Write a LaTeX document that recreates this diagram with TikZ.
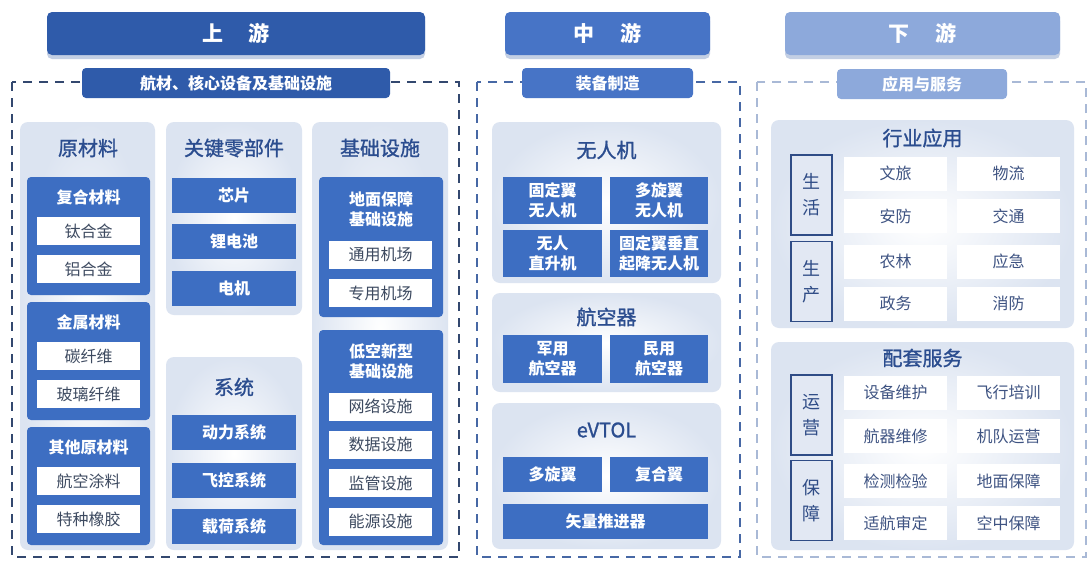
\documentclass[tikz,border=0pt]{standalone}
\usepackage{fontspec}
\setmainfont{Noto Sans CJK SC}
\newfontfamily\medfont[FakeBold=1.2]{Noto Sans CJK SC}
\usetikzlibrary{shadows}
\definecolor{upblue}{HTML}{2F5BAA}
\definecolor{midblue}{HTML}{4774C6}
\definecolor{downblue}{HTML}{8DA9DB}
\definecolor{boxblue}{HTML}{3D6EC2}
\definecolor{titleblue}{HTML}{2B4D8F}
\definecolor{itemgray}{HTML}{3D4A60}
\definecolor{panelbg}{HTML}{DCE4F1}
\definecolor{sidebg}{HTML}{E2E8F3}
\definecolor{sideblue}{HTML}{2F4C86}
\definecolor{celltext}{HTML}{3E5382}
\definecolor{shadowblue}{HTML}{B5C3DE}
\definecolor{upframe}{HTML}{33486F}
\definecolor{midframe}{HTML}{4768A5}
\definecolor{downframe}{HTML}{A9B9D6}
\begin{document}
\begin{tikzpicture}[x=1pt, y=-1pt,
    header/.style={rounded corners=5pt, text=white, minimum height=43pt, font=\fontsize{21}{21}\selectfont\bfseries,
        drop shadow={shadow xshift=0pt, shadow yshift=-4pt, fill=shadowblue, opacity=0.8}},
    subhead/.style={rounded corners=4pt, text=white, minimum height=30pt, font=\fontsize{16}{16}\selectfont\bfseries},
    frame/.style={line width=1.8pt, dash pattern=on 9pt off 7pt},
    panel/.style={rounded corners=8pt, inner color=white, outer color=panelbg},
    paneltitle/.style={text=titleblue, font=\fontsize{20}{20}\selectfont\medfont},
    group/.style={fill=boxblue, rounded corners=4pt},
    grouplabel/.style={text=white, align=center, font=\fontsize{16}{20}\selectfont\bfseries},
    item/.style={fill=white, text=itemgray, minimum width=103pt, minimum height=28pt, inner sep=0pt, font=\fontsize{16}{16}\selectfont},
    part/.style={fill=boxblue, text=white, align=center, inner sep=0pt, font=\fontsize{16}{20}\selectfont\bfseries},
    side/.style={fill=sidebg, draw=sideblue, line width=1.5pt, text=sideblue, align=center, minimum width=41pt,
        minimum height=80pt, inner sep=0pt, font=\fontsize{18}{26}\selectfont},
    cell/.style={fill=white, text=celltext, minimum width=103pt, minimum height=34pt, inner sep=0pt, font=\fontsize{16}{16}\selectfont}]
    \useasboundingbox[fill=white] (0,0) rectangle (1092,560);

    % headers
    \node[header, fill=upblue, minimum width=378pt] (up) at (236,33.5) {上\hspace{1.2em}游};
    \node[header, fill=midblue, minimum width=205pt] (mid) at (607.5,33.5) {中\hspace{1.2em}游};
    \node[header, fill=downblue, minimum width=275pt] (down) at (922.5,33.5) {下\hspace{1.2em}游};

    % dashed frames
    \draw[frame, upframe] (12,82) rectangle (459,557);
    \draw[frame, midframe] (477,82) rectangle (740,557);
    \draw[frame, downframe] (757,82) rectangle (1086,557);
    \node[subhead, fill=upblue, minimum width=308pt] (upsub) at (236,83) {航材、核心设备及基础设施};
    \node[subhead, fill=midblue, minimum width=171pt] (midsub) at (607.5,83) {装备制造};
    \node[subhead, fill=downblue, minimum width=170pt] (downsub) at (922,84) {应用与服务};

    % upstream panels
    \node[panel, minimum width=135pt, minimum height=428pt] (raw) at (87.5,336) {};
    \node[panel, minimum width=136pt, minimum height=193pt] (key) at (234,218.5) {};
    \node[panel, minimum width=136pt, minimum height=193pt] (sys) at (234,453.5) {};
    \node[panel, minimum width=136pt, minimum height=428pt] (infra) at (380,336) {};
    \node[paneltitle] (raw-title) at (88,148) {原材料};
    \node[paneltitle] (key-title) at (234,148) {关键零部件};
    \node[paneltitle] (infra-title) at (380,148) {基础设施};
    \node[paneltitle] (sys-title) at (234,387) {系统};

    \foreach \gy/\gname/\ga/\gb [count=\i] in {177/复合材料/钛合金/铝合金, 302/金属材料/碳纤维/玻璃纤维, 427/其他原材料/航空涂料/特种橡胶} {
        \node[group, minimum width=123pt, minimum height=118pt] (raw\i) at (88.5,\gy+59) {};
        \node[grouplabel] (raw\i-label) at (88.5,\gy+20) {\gname};
        \node[item] (raw\i-a) at (88.5,\gy+54) {\ga};
        \node[item] (raw\i-b) at (88.5,\gy+92) {\gb};
    }
    \foreach \py/\pname [count=\i] in {195.5/芯片, 241.5/锂电池, 288/电机}
        \node[part, minimum width=124pt, minimum height=35pt] (key\i) at (234,\py) {\pname};
    \foreach \py/\pname [count=\i] in {432/动力系统, 480.5/飞控系统, 526/载荷系统}
        \node[part, minimum width=124pt, minimum height=35pt] (sys\i) at (234,\py) {\pname};

    \node[group, minimum width=124pt, minimum height=140pt] (infra1) at (381,247) {};
    \node[grouplabel] (infra1-label) at (381,209) {地面保障\\基础设施};
    \foreach \iy/\iname [count=\i] in {254.5/通用机场, 293/专用机场}
        \node[item] (infra1-\i) at (380.5,\iy) {\iname};
    \node[group, minimum width=124pt, minimum height=215pt] (infra2) at (381,437.5) {};
    \node[grouplabel] (infra2-label) at (381,361) {低空新型\\基础设施};
    \foreach \iy/\iname [count=\i] in {406.5/网络设施, 444.5/数据设施, 483/监管设施, 521.5/能源设施}
        \node[item] (infra2-\i) at (380.5,\iy) {\iname};

    % midstream
    \node[panel, minimum width=229pt, minimum height=161pt] (uav) at (606.5,202.5) {};
    \node[panel, minimum width=229pt, minimum height=99pt] (air) at (606.5,342.5) {};
    \node[panel, minimum width=229pt, minimum height=146pt] (evtol) at (606.5,476) {};
    \node[paneltitle] (uav-title) at (606.5,150) {无人机};
    \node[paneltitle] (air-title) at (606.5,317) {航空器};
    \node[paneltitle] (evtol-title) at (606.5,430) {eVTOL};
    \node[part, minimum width=99pt, minimum height=47pt] (uav1) at (552.5,200.5) {固定翼\\无人机};
    \node[part, minimum width=98pt, minimum height=47pt] (uav2) at (659,200.5) {多旋翼\\无人机};
    \node[part, minimum width=99pt, minimum height=47pt] (uav3) at (552.5,253) {无人\\直升机};
    \node[part, minimum width=98pt, minimum height=47pt] (uav4) at (659,253) {固定翼垂直\\起降无人机};
    \node[part, minimum width=99pt, minimum height=48pt] (air1) at (552.5,359) {军用\\航空器};
    \node[part, minimum width=98pt, minimum height=48pt] (air2) at (659,359) {民用\\航空器};
    \node[part, minimum width=99pt, minimum height=35pt] (evtol1) at (552.5,474.5) {多旋翼};
    \node[part, minimum width=98pt, minimum height=35pt] (evtol2) at (659,474.5) {复合翼};
    \node[part, minimum width=205pt, minimum height=35pt] (evtol3) at (605.5,521.5) {矢量推进器};

    % downstream
    \node[panel, minimum width=303pt, minimum height=208pt] (ind) at (922.5,224) {};
    \node[panel, minimum width=303pt, minimum height=208pt] (svc) at (922.5,446) {};
    \node[paneltitle] (ind-title) at (922.5,138) {行业应用};
    \node[paneltitle] (svc-title) at (922.5,358) {配套服务};
    \foreach \sy/\sname [count=\i] in {195/生\\活, 281.5/生\\产, 415/运\\营, 500.5/保\\障}
        \node[side] (side\i) at (811.5,\sy) {\sname};
    \foreach \cy/\ca/\cb [count=\i] in {173.5/文旅/物流, 216/安防/交通, 261.5/农林/应急, 303.5/政务/消防,
        392.5/设备维护/飞行培训, 436/航器维修/机队运营, 481/检测检验/地面保障, 523/适航审定/空中保障} {
        \node[cell] (cell\i-a) at (895.5,\cy) {\ca};
        \node[cell] (cell\i-b) at (1008.5,\cy) {\cb};
    }
\end{tikzpicture}
\end{document}
